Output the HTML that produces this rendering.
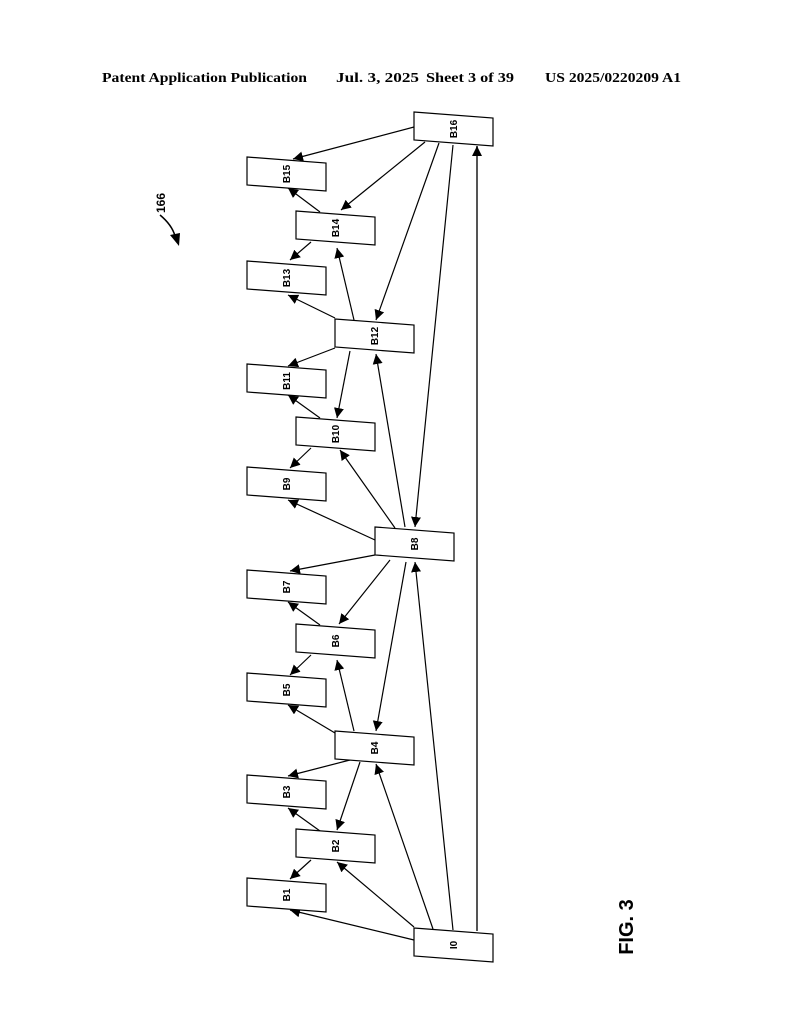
<!DOCTYPE html>
<html><head><meta charset="utf-8"><style>
body{margin:0;background:#fff}
svg{display:block}
</style></head><body>
<svg width="794" height="1024" viewBox="0 0 794 1024" xmlns="http://www.w3.org/2000/svg">
<defs>
<marker id="a" viewBox="0 0 10 10" refX="10" refY="5" markerWidth="10" markerHeight="10" markerUnits="userSpaceOnUse" orient="auto"><path d="M0,0 L10,5 L0,10 z" fill="#000"/></marker>
</defs>
<g font-family="Liberation Serif, serif" font-weight="bold" font-size="14" fill="#000">
<text x="102" y="82" textLength="205" lengthAdjust="spacingAndGlyphs">Patent Application Publication</text>
<text x="336" y="82" textLength="83" lengthAdjust="spacingAndGlyphs">Jul. 3, 2025</text>
<text x="426" y="82" textLength="88" lengthAdjust="spacingAndGlyphs">Sheet 3 of 39</text>
<text x="545" y="82" textLength="136" lengthAdjust="spacingAndGlyphs">US 2025/0220209 A1</text>
</g>
<g stroke="#000" stroke-width="1.2" fill="none" marker-end="url(#a)">
<line x1="414" y1="127" x2="293" y2="159"/>
<line x1="425" y1="142" x2="341" y2="210"/>
<line x1="439" y1="143" x2="376" y2="320"/>
<line x1="453" y1="145" x2="415" y2="527"/>
<line x1="320" y1="212" x2="288" y2="188"/>
<line x1="311" y1="242" x2="290" y2="260"/>
<line x1="354" y1="320" x2="337" y2="248"/>
<line x1="335" y1="318" x2="288" y2="295"/>
<line x1="335" y1="348" x2="288" y2="366"/>
<line x1="350" y1="351" x2="337" y2="418"/>
<line x1="320" y1="418" x2="288" y2="395"/>
<line x1="311" y1="448" x2="290" y2="468"/>
<line x1="405" y1="527" x2="376" y2="354"/>
<line x1="395" y1="528" x2="340" y2="450"/>
<line x1="375" y1="540" x2="288" y2="500"/>
<line x1="375" y1="555" x2="290" y2="571"/>
<line x1="390" y1="560" x2="339" y2="624"/>
<line x1="406" y1="562" x2="376" y2="731"/>
<line x1="320" y1="625" x2="288" y2="602"/>
<line x1="311" y1="655" x2="290" y2="675"/>
<line x1="354" y1="731" x2="337" y2="660"/>
<line x1="335" y1="733" x2="288" y2="705"/>
<line x1="350" y1="760" x2="288" y2="776"/>
<line x1="360" y1="762" x2="337" y2="830"/>
<line x1="320" y1="831" x2="288" y2="808"/>
<line x1="311" y1="860" x2="290" y2="879"/>
<line x1="414" y1="940" x2="290" y2="910"/>
<line x1="414" y1="927" x2="337" y2="862"/>
<line x1="433" y1="929" x2="376" y2="764"/>
<line x1="453" y1="930" x2="415" y2="562"/>
<line x1="477" y1="931" x2="477" y2="146" stroke="#555" stroke-width="2"/>
</g>
<g stroke="#000" stroke-width="1.2" fill="#fff">
<polygon points="414,112 493,118 493,146 414,140"/>
<polygon points="247,157 326,163 326,191 247,185"/>
<polygon points="296,211 375,217 375,245 296,239"/>
<polygon points="247,261 326,267 326,295 247,289"/>
<polygon points="335,319 414,325 414,353 335,347"/>
<polygon points="247,364 326,370 326,398 247,392"/>
<polygon points="296,417 375,423 375,451 296,445"/>
<polygon points="247,467 326,473 326,501 247,495"/>
<polygon points="375,527 454,533 454,561 375,555"/>
<polygon points="247,570 326,576 326,604 247,598"/>
<polygon points="296,624 375,630 375,658 296,652"/>
<polygon points="247,673 326,679 326,707 247,701"/>
<polygon points="335,731 414,737 414,765 335,759"/>
<polygon points="247,775 326,781 326,809 247,803"/>
<polygon points="296,829 375,835 375,863 296,857"/>
<polygon points="247,878 326,884 326,912 247,906"/>
<polygon points="414,928 493,934 493,962 414,956"/>
</g>
<g font-family="Liberation Sans, sans-serif" font-weight="bold" font-size="10" fill="#000" text-anchor="middle">
<text transform="translate(457,129) rotate(-90)">B16</text>
<text transform="translate(290,174) rotate(-90)">B15</text>
<text transform="translate(339,228) rotate(-90)">B14</text>
<text transform="translate(290,278) rotate(-90)">B13</text>
<text transform="translate(378,336) rotate(-90)">B12</text>
<text transform="translate(290,381) rotate(-90)">B11</text>
<text transform="translate(339,434) rotate(-90)">B10</text>
<text transform="translate(290,484) rotate(-90)">B9</text>
<text transform="translate(418,544) rotate(-90)">B8</text>
<text transform="translate(290,587) rotate(-90)">B7</text>
<text transform="translate(339,641) rotate(-90)">B6</text>
<text transform="translate(290,690) rotate(-90)">B5</text>
<text transform="translate(378,748) rotate(-90)">B4</text>
<text transform="translate(290,792) rotate(-90)">B3</text>
<text transform="translate(339,846) rotate(-90)">B2</text>
<text transform="translate(290,895) rotate(-90)">B1</text>
<text transform="translate(457,945) rotate(-90)">I0</text>
</g>
<text transform="translate(165,203) rotate(-90)" font-family="Liberation Sans, sans-serif" font-weight="bold" font-size="12" text-anchor="middle">166</text>
<path d="M160,215 Q172,225 175,236" stroke="#000" stroke-width="1.5" fill="none"/>
<path d="M170,235 L180,233 L179,246 z" fill="#000"/>
<text transform="translate(633,927) rotate(-90)" font-family="Liberation Sans, sans-serif" font-weight="bold" font-size="20" text-anchor="middle">FIG. 3</text>
</svg>
</body></html>
